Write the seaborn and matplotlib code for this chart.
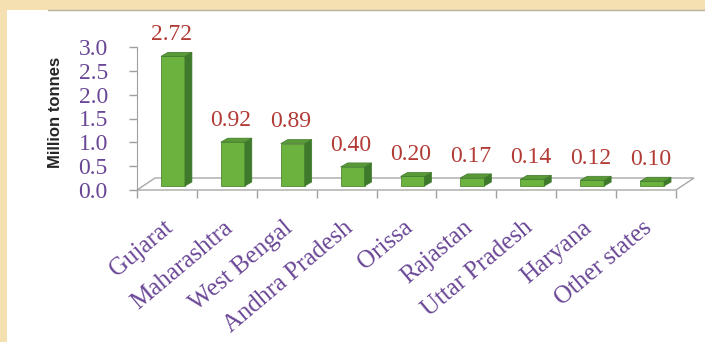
import matplotlib
matplotlib.use("Agg")
import matplotlib.pyplot as plt
import seaborn as sns
import pandas as pd
from matplotlib.patches import Polygon, Rectangle
from matplotlib.transforms import ScaledTranslation, IdentityTransform
from matplotlib.lines import Line2D

states = ["Gujarat", "Maharashtra", "West Bengal", "Andhra Pradesh", "Orissa",
          "Rajastan", "Uttar Pradesh", "Haryana", "Other states"]
production = [2.72, 0.92, 0.89, 0.40, 0.20, 0.17, 0.14, 0.12, 0.10]
value_labels = ["2.72", "0.92", "0.89", "0.40", "0.20", "0.17", "0.14", "0.12", "0.10"]
y_ticks = [0.0, 0.5, 1.0, 1.5, 2.0, 2.5, 3.0]

df = pd.DataFrame({"state": states, "production": production})

sns.set_style("white")
plt.rcParams["font.family"] = ["Liberation Serif", "DejaVu Serif"]

purple = "#6a4796"
red = "#b23b36"
green_front = "#6cb23e"
green_side = "#3f7a2c"
green_top = "#5a9a36"

fig = plt.figure(figsize=(7.05, 3.42), dpi=100)
fig.patch.set_facecolor("#f4e0b0")
fig.patches.append(Rectangle((7/705, 0), 1, 1 - 10/342, transform=fig.transFigure,
                             facecolor="white", edgecolor="none", zorder=-10))
fig.lines.append(Line2D([48/705, 1], [1 - 10/342, 1 - 10/342], transform=fig.transFigure,
                        color="#b9b2a2", lw=1))

ax = fig.add_axes([137/705, 1 - 190/342, (676 - 137)/705, 143/342])
ax.set_facecolor("none")

sns.barplot(data=df, x="state", y="production", color=green_front, width=0.4,
            saturation=1, ax=ax, zorder=3)
ax.set_xlim(-0.5, 8.5)
ax.set_ylim(0, 3.0)

# pseudo 3d: floor, shifted bars with side and top faces
floor_d = (18, 12)
bar_off = (6, 4)
depth = (7, 4)
p0 = ax.transData.transform((-0.5, 0))
p1 = ax.transData.transform((8.5, 0))
floor = Polygon([p0, p1, (p1[0] + floor_d[0], p1[1] + floor_d[1]),
                 (p0[0] + floor_d[0], p0[1] + floor_d[1])],
                closed=True, transform=IdentityTransform(), facecolor="white",
                edgecolor="#a8a8a8", lw=1, zorder=1, clip_on=False)
ax.add_artist(floor)

off = ScaledTranslation(bar_off[0]/100, bar_off[1]/100, fig.dpi_scale_trans)
for patch in ax.patches[:len(states)]:
    x0, w, h = patch.get_x(), patch.get_width(), patch.get_height()
    br = ax.transData.transform((x0 + w, 0)) + bar_off
    tr = ax.transData.transform((x0 + w, h)) + bar_off
    tl = ax.transData.transform((x0, h)) + bar_off
    patch.set_transform(ax.transData + off)
    patch.set_edgecolor("#4f8a30")
    patch.set_linewidth(0.6)
    patch.set_clip_on(False)
    side = Polygon([br, tr, tr + depth, br + depth], closed=True,
                   transform=IdentityTransform(), facecolor=green_side,
                   edgecolor=green_side, lw=0.5, zorder=3, clip_on=False)
    top = Polygon([tl, tr, tr + depth, tl + depth], closed=True,
                  transform=IdentityTransform(), facecolor=green_top,
                  edgecolor=green_side, lw=0.5, zorder=3, clip_on=False)
    ax.add_artist(side)
    ax.add_artist(top)

for i, (v, lab) in enumerate(zip(production, value_labels)):
    ax.annotate(lab, (i, v), xytext=(3, 11), textcoords="offset points",
                ha="center", va="bottom", color=red, fontsize=17, zorder=5)

for s in ["top", "right", "bottom"]:
    ax.spines[s].set_visible(False)
ax.spines["left"].set_color("#a0a0a0")
ax.spines["left"].set_zorder(2)

ax.set_yticks(y_ticks)
ax.set_yticklabels([f"{t:.1f}" for t in y_ticks])
ax.tick_params(axis="y", colors="#a0a0a0", labelcolor=purple, labelsize=17,
               length=6, width=1, pad=15, left=True)

ax.set_xticks(range(len(states)))
ax.set_xticklabels(states, rotation=40, ha="right", rotation_mode="anchor")
ax.set_xticks([i - 0.5 for i in range(len(states) + 1)], minor=True)
ax.tick_params(axis="x", which="major", length=0, labelcolor=purple, labelsize=18, pad=19)
ax.tick_params(axis="x", which="minor", length=6, width=1, color="#a0a0a0", bottom=True)
for lbl in ax.get_xticklabels():
    lbl.set_transform(lbl.get_transform() + ScaledTranslation(-4/100, 0, fig.dpi_scale_trans))

ax.set_xlabel("")
ax.set_ylabel("")
fig.text(55/705, 1 - 112/342, "Million tonnes", rotation=90, ha="center", va="center",
         fontsize=12, fontweight="bold", family=["Liberation Sans", "DejaVu Sans"])

fig.savefig("out.png", dpi=100)
